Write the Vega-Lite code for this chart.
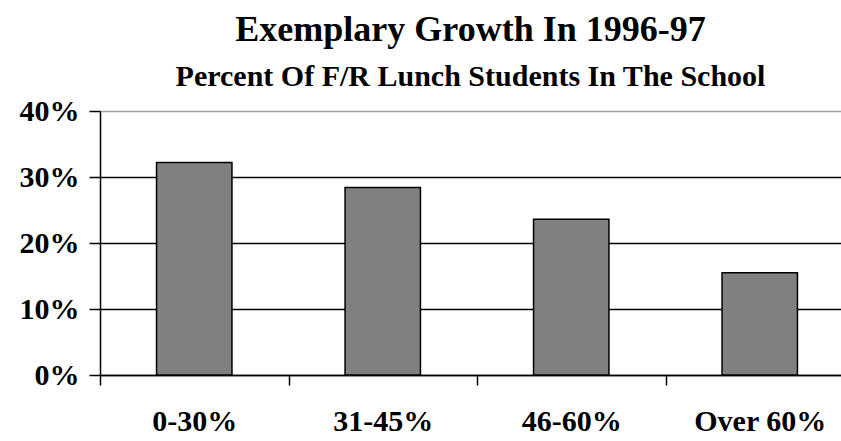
{
  "$schema": "https://vega.github.io/schema/vega-lite/v6.json",
  "autosize": "none",
  "width": 741,
  "height": 264,
  "padding": {"left": 100, "top": 111, "right": 0, "bottom": 66},
  "background": "white",
  "title": {
    "text": "Exemplary Growth In 1996-97",
    "subtitle": "Percent Of F/R Lunch Students In The School",
    "anchor": "middle",
    "font": "Liberation Serif",
    "fontSize": 36,
    "fontWeight": "bold",
    "color": "black",
    "subtitleFont": "Liberation Serif",
    "subtitleFontSize": 30,
    "subtitleFontWeight": "bold",
    "subtitleColor": "black",
    "subtitlePadding": 13,
    "offset": 3
  },
  "data": {
    "values": [
      {"group": "0-30%", "pct": 0.322},
      {"group": "31-45%", "pct": 0.284},
      {"group": "46-60%", "pct": 0.236},
      {"group": "Over 60%", "pct": 0.155}
    ]
  },
  "mark": {"type": "bar", "fill": "#808080", "stroke": "black", "strokeWidth": 1.5, "width": {"band": 0.4}},
  "encoding": {
    "x": {
      "field": "group",
      "type": "nominal",
      "sort": null,
      "scale": {"paddingInner": 0, "paddingOuter": 0, "range": [0, 754]},
      "axis": {
        "title": null,
        "labelAngle": 0,
        "labelFont": "Liberation Serif",
        "labelFontSize": 30,
        "labelFontWeight": "bold",
        "labelColor": "black",
        "labelPadding": 21,
        "domainColor": "black",
        "domainWidth": 1.5,
        "tickColor": "black",
        "tickWidth": 1.5,
        "tickSize": 10,
        "tickBand": "extent",
        "grid": false
      }
    },
    "y": {
      "field": "pct",
      "type": "quantitative",
      "scale": {"domain": [0, 0.4]},
      "axis": {
        "title": null,
        "values": [0, 0.1, 0.2, 0.3, 0.4],
        "format": ".0%",
        "labelFont": "Liberation Serif",
        "labelFontSize": 30,
        "labelFontWeight": "bold",
        "labelColor": "black",
        "labelPadding": 10,
        "domainColor": "black",
        "domainWidth": 1.5,
        "tickColor": "black",
        "tickWidth": 1.5,
        "tickSize": 11,
        "grid": true,
        "gridColor": {"condition": {"test": "datum.value >= 0.4", "value": "#a0a0a0"}, "value": "black"},
        "gridWidth": 1.5,
        "gridOpacity": 1
      }
    }
  },
  "config": {"view": {"stroke": null}}
}
